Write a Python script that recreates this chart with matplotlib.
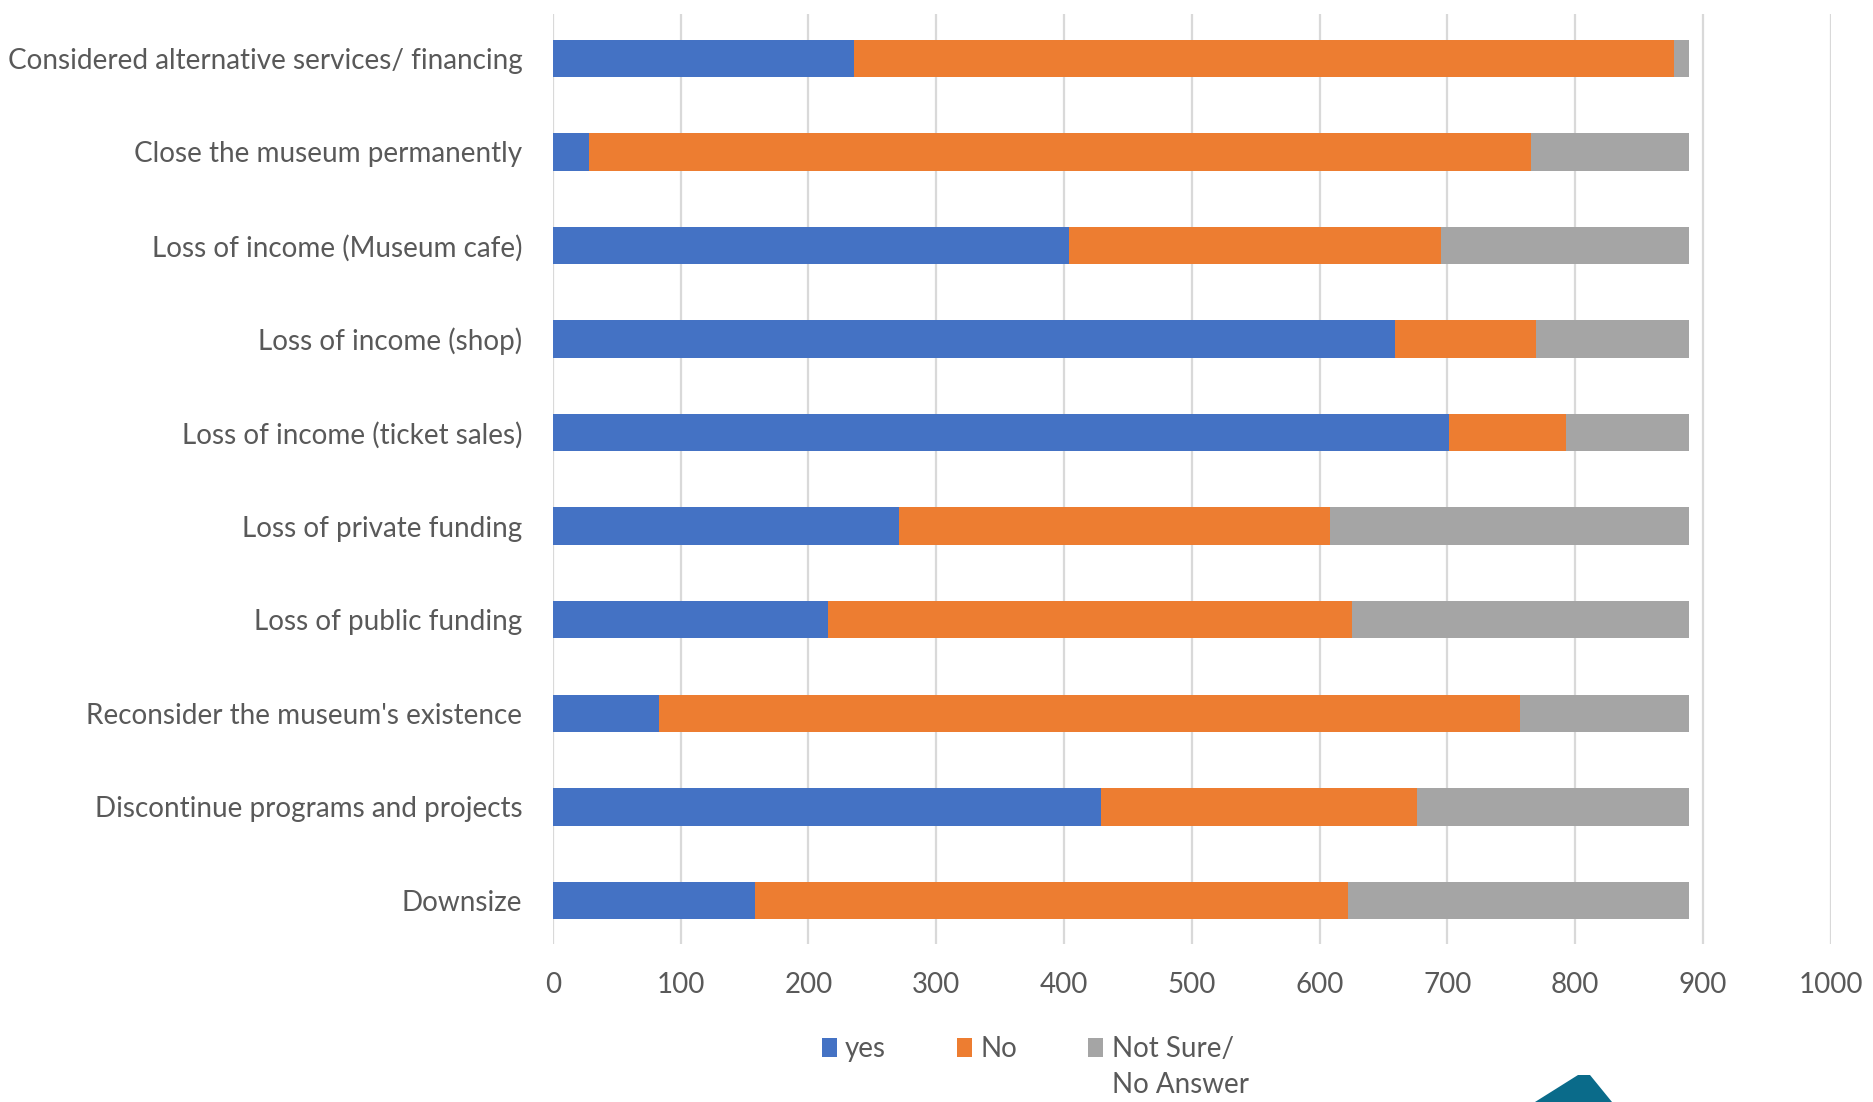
import matplotlib
matplotlib.use("Agg")
import matplotlib.pyplot as plt
from matplotlib.patches import Polygon

# categories, top to bottom
categories = [
    "Considered alternative services/ financing",
    "Close the museum permanently",
    "Loss of income (Museum cafe)",
    "Loss of income (shop)",
    "Loss of income (ticket sales)",
    "Loss of private funding",
    "Loss of public funding",
    "Reconsider the museum's existence",
    "Discontinue programs and projects",
    "Downsize",
]
yes = [236, 28, 404, 659, 701, 271, 215, 83, 429, 158]
no = [641, 737, 291, 110, 92, 337, 410, 674, 247, 464]
not_sure = [12, 124, 194, 120, 96, 281, 264, 132, 213, 267]

series_names = ["yes", "No", "Not Sure/"]
colors = ["#4472c4", "#ed7d31", "#a5a5a5"]
xticks = [0, 100, 200, 300, 400, 500, 600, 700, 800, 900, 1000]

plt.rcParams["font.family"] = ["Lato", "DejaVu Sans"]
txt_col = "#595959"

fig = plt.figure(figsize=(18.74, 11.02), dpi=100)
ax = fig.add_axes([0.295, 0.143, 0.682, 0.844])

ypos = list(range(len(categories)))
left = [0] * len(categories)
for vals, name, col in zip([yes, no, not_sure], series_names, colors):
    ax.barh(ypos, vals, left=left, height=0.40, color=col, label=name, zorder=3)
    left = [a + b for a, b in zip(left, vals)]

ax.set_xlim(0, 1000)
ax.set_ylim(9.47, -0.47)
ax.set_xticks(xticks)
ax.set_yticks(ypos)
ax.set_yticklabels(categories)
ax.tick_params(axis="y", length=0, labelsize=20.1, labelcolor=txt_col, pad=22)
ax.tick_params(axis="x", length=0, labelsize=20, labelcolor=txt_col, pad=20)
for s in ax.spines.values():
    s.set_visible(False)
ax.grid(axis="x", color="#d9d9d9", linewidth=1.6, zorder=0)

leg = fig.legend(loc="center left", bbox_to_anchor=(0.431, 0.048), ncol=3, frameon=False,
                 fontsize=20, handlelength=0.55, handleheight=0.7, handletextpad=0.3,
                 columnspacing=2.55, labelcolor=txt_col, borderpad=0)

# second line of the last legend label
fig.canvas.draw()
bb = leg.get_texts()[2].get_window_extent()
fig.text(bb.x0, bb.y0 - 10, "No Answer", fontsize=20, color=txt_col,
         ha="left", va="top", transform=None)

# partial logo at the bottom edge
fig.patches.append(Polygon([[1535, 0], [1578, 27], [1590, 27], [1612, 0]], closed=True,
                           transform=None, facecolor="#0a6b8a"))

fig.savefig("out.png", dpi=100)
